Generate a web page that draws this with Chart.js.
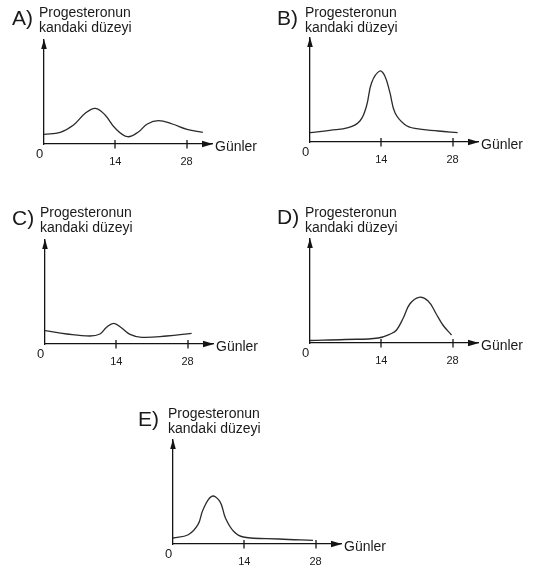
<!DOCTYPE html>
<html>
<head>
<meta charset="utf-8">
<script src="https://cdn.jsdelivr.net/npm/chart.js@4.4.1/dist/chart.umd.min.js"></script>
<style>
    body { margin: 0; width: 540px; height: 569px; overflow: hidden; background: #fff; position: relative; font-family: "Liberation Sans", Arial, sans-serif; color: #1a1a1a; }
    canvas { position: absolute; }
    .lbl { position: absolute; white-space: nowrap; line-height: 1; }
</style>
</head>
<body>
<script>
// Values: x = day of cycle, y = level (same arbitrary units in every panel)
const tickDays = [14, 28]

const daysA = [0, 3.2, 5.8, 8.1, 10.1, 12.0, 14.0, 16.4, 18.6, 20.3, 22.5, 25.2, 28.1, 31.2]
const levelA = [9.7, 11.7, 19, 30.7, 35.7, 29, 15.7, 7.3, 12.3, 20, 23.3, 20, 14.7, 11.7]

const daysB = [0, 3.9, 7.5, 9.8, 11.1, 12.1, 13.7, 14.7, 15.7, 16.7, 18.6, 20.6, 25.2, 29.0]
const levelB = [9.3, 11.7, 14.3, 21, 36, 59.3, 71, 66, 49.3, 29.3, 17.6, 13.6, 11, 9.3]

const daysC = [0, 4.3, 8.8, 10.8, 12.1, 13.5, 15.0, 16.7, 19.0, 23.9, 28.8]
const levelC = [13.3, 10, 8, 10, 16.7, 20.7, 16.3, 9.7, 6.7, 8, 10.7]

const daysD = [0, 6.9, 13.4, 16, 17.0, 18.3, 19.6, 21.4, 23.2, 24.8, 26.1, 27.8]
const levelD = [2.5, 3.5, 5, 9.5, 13, 24.7, 39, 45.7, 42, 29, 18, 8]

const daysE = [0, 3.0, 4.9, 5.9, 7.6, 9.2, 10.3, 11.9, 13.8, 20.8, 27.5]
const levelE = [6, 9.3, 19.3, 34.3, 47.7, 42.7, 26, 12.7, 7, 5, 3.7]

const titleLines = ['Progesteronun', 'kandaki düzeyi']
const xTitle = 'Günler'

// Layout: axis origin of each panel on the page and the baseline of its title
const panels = [
    { letter: 'A)', ox: 44, oy: 144, base: 17.3, lx: 12, days: daysA, level: levelA },
    { letter: 'B)', ox: 310, oy: 142, base: 17.3, lx: 277, days: daysB, level: levelB },
    { letter: 'C)', ox: 45, oy: 344, base: 217.3, lx: 12, days: daysC, level: levelC },
    { letter: 'D)', ox: 310, oy: 343, base: 216.7, lx: 277, days: daysD, level: levelD },
    { letter: 'E)', ox: 173, oy: 544, base: 418.3, lx: 138, days: daysE, level: levelE }
]

const XMAX = 33
const YMAX = 104
const ink = '#141414'

Chart.defaults.font.family = '"Liberation Sans", Arial, sans-serif'

function addText(text, left, baseline, size) {
    const el = document.createElement('div')
    el.className = 'lbl'
    el.textContent = text
    el.style.fontSize = size + 'px'
    el.style.left = left + 'px'
    el.style.top = (baseline - 0.8465 * size) + 'px'
    document.body.appendChild(el)
}

const axisArrows = {
    id: 'axisArrows',
    afterDraw(chart) {
        const { ctx, chartArea: a, scales: { x } } = chart
        ctx.save()
        ctx.fillStyle = ink
        ctx.strokeStyle = ink
        ctx.lineWidth = 1.3
        // arrow heads
        ctx.beginPath()
        ctx.moveTo(a.right + 1, a.bottom)
        ctx.lineTo(a.right - 10, a.bottom - 3.2)
        ctx.lineTo(a.right - 10, a.bottom + 3.2)
        ctx.closePath()
        ctx.fill()
        ctx.beginPath()
        ctx.moveTo(a.left, a.top - 1)
        ctx.lineTo(a.left - 2.8, a.top + 9)
        ctx.lineTo(a.left + 2.8, a.top + 9)
        ctx.closePath()
        ctx.fill()
        // tick marks crossing the axis
        tickDays.forEach(d => {
            const px = Math.round(x.getPixelForValue(d))
            ctx.beginPath()
            ctx.moveTo(px, a.bottom - 4)
            ctx.lineTo(px, a.bottom + 4.5)
            ctx.stroke()
        })
        ctx.restore()
    }
}

function makePanel(p) {
    const cv = document.createElement('canvas')
    cv.width = 270
    cv.height = 175
    cv.style.left = (p.ox - 44) + 'px'
    cv.style.top = (p.oy - 144) + 'px'
    document.body.appendChild(cv)

    new Chart(cv, {
        type: 'line',
        data: {
            datasets: [{
                data: p.days.map((d, i) => ({ x: d, y: p.level[i] })),
                borderColor: '#2b2b2b',
                borderWidth: 1.3,
                pointRadius: 0,
                tension: 0.4,
                fill: false
            }]
        },
        options: {
            responsive: false,
            animation: false,
            events: [],
            layout: { padding: { left: 44, top: 40, right: 58, bottom: 0 } },
            plugins: { legend: { display: false }, tooltip: { enabled: false } },
            scales: {
                x: {
                    type: 'linear',
                    min: 0,
                    max: XMAX,
                    afterFit: s => { s.height = 31 },
                    afterBuildTicks: s => { s.ticks = tickDays.map(v => ({ value: v })) },
                    grid: { display: false, drawTicks: false },
                    border: { display: true, color: ink, width: 1.3 },
                    ticks: { padding: 11, color: '#1a1a1a', font: { size: 11 }, maxRotation: 0, autoSkip: false }
                },
                y: {
                    min: 0,
                    max: YMAX,
                    afterFit: s => { s.width = 0 },
                    grid: { display: false, drawTicks: false },
                    border: { display: true, color: ink, width: 1.3 },
                    ticks: { display: false }
                }
            }
        },
        plugins: [axisArrows]
    })

    addText(p.letter, p.lx, p.base + 7, 21)
    addText(titleLines[0], p.ox - 5, p.base, 14)
    addText(titleLines[1], p.ox - 5, p.base + 15, 14)
    addText(xTitle, p.ox + 171, p.oy + 7, 14)
    addText('0', p.ox - 8, p.oy + 14, 13)
}

panels.forEach(makePanel)
</script>
</body>
</html>
